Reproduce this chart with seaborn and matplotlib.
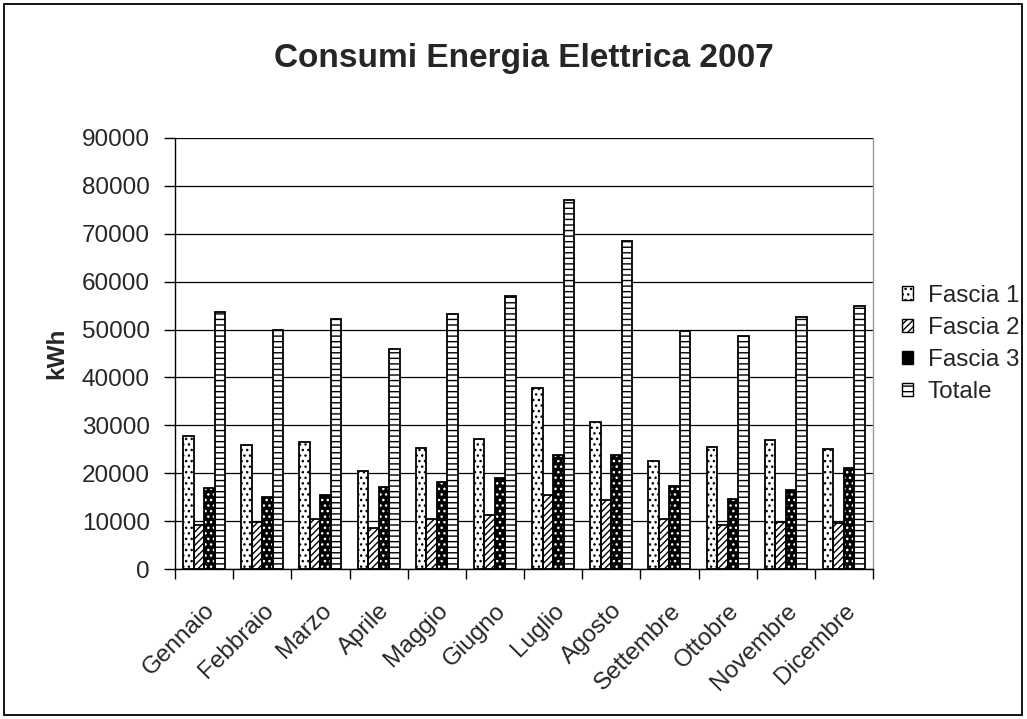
import matplotlib
matplotlib.use("Agg")
import matplotlib.pyplot as plt
from matplotlib.patches import Rectangle, Patch
from matplotlib.ticker import FixedLocator
from matplotlib.transforms import ScaledTranslation
import seaborn as sns
import pandas as pd

mesi = ["Gennaio", "Febbraio", "Marzo", "Aprile", "Maggio", "Giugno",
        "Luglio", "Agosto", "Settembre", "Ottobre", "Novembre", "Dicembre"]
serie = ["Fascia 1", "Fascia 2", "Fascia 3", "Totale"]

fascia1 = [27700, 25900, 26600, 20500, 25200, 27200, 37900, 30600, 22500, 25500, 26900, 25000]
fascia2 = [9200, 9800, 10500, 8500, 10500, 11200, 15500, 14500, 10500, 9200, 9900, 9700]
fascia3 = [16900, 15000, 15500, 17200, 18200, 18900, 23900, 23900, 17300, 14600, 16600, 21000]
totale = [53600, 50000, 52300, 45900, 53300, 57000, 77000, 68400, 49700, 48600, 52700, 55000]

y_ticks = [0, 10000, 20000, 30000, 40000, 50000, 60000, 70000, 80000, 90000]

df = pd.DataFrame({
    "Mese": mesi * 4,
    "Serie": [s for s in serie for _ in mesi],
    "kWh": fascia1 + fascia2 + fascia3 + totale,
})

sns.set_theme(style="white")
plt.rcParams["font.family"] = ["Liberation Sans", "DejaVu Sans"]
plt.rcParams["hatch.linewidth"] = 1.0

FS = 17.5

# (face, hatch colour, hatch pattern) for each series
stili = {
    "Fascia 1": ("white", "black", "..."),
    "Fascia 2": ("white", "black", "/////"),
    "Fascia 3": ("black", "white", "..."),
    "Totale": ("white", "black", "---"),
}

fig = plt.figure(figsize=(10.27, 7.19), dpi=100)
ax = fig.add_axes([175 / 1027, 1 - 569 / 719, (873 - 175) / 1027, (569 - 138) / 719])

sns.barplot(data=df, x="Mese", y="kWh", hue="Serie", order=mesi, hue_order=serie,
            palette=["white"] * 4, saturation=1, width=0.72, gap=0,
            edgecolor="black", linewidth=1.2, errorbar=None, legend=False, ax=ax)

for cont, nome in zip(ax.containers, serie):
    face, hcol, hatch = stili[nome]
    for bar in cont:
        bar.set_facecolor(face)
        bar.set_edgecolor(hcol)
        bar.set_hatch(hatch)
        bar.set_linewidth(0)
        ax.add_patch(Rectangle((bar.get_x(), bar.get_y()), bar.get_width(), bar.get_height(),
                               facecolor="none", edgecolor="black", linewidth=1.3, zorder=3))

ax.set_ylim(0, 90000)
ax.set_xlim(-0.5, len(mesi) - 0.5)
ax.set_yticks(y_ticks)
ax.set_yticklabels([str(v) for v in y_ticks], fontsize=FS)

# ticks on category boundaries, labels on category centres
ax.xaxis.set_major_locator(FixedLocator([i - 0.5 for i in range(len(mesi) + 1)]))
ax.xaxis.set_minor_locator(FixedLocator(list(range(len(mesi)))))
ax.set_xticklabels([], minor=False)
ax.set_xticklabels(mesi, minor=True, fontsize=FS, rotation=45, ha="right", va="top",
                   rotation_mode="anchor")
shift = ScaledTranslation(-6 / 100, 0, fig.dpi_scale_trans)
for lab in ax.get_xticklabels(minor=True):
    lab.set_transform(lab.get_transform() + shift)
ax.tick_params(axis="x", which="major", direction="out", length=7, width=1, color="black",
               bottom=True)
ax.tick_params(axis="x", which="minor", length=0, pad=22)
ax.tick_params(axis="y", direction="out", length=8, width=1, color="black", left=True, pad=10)

ax.grid(axis="y", color="black", linewidth=0.9)
ax.set_axisbelow(True)
for side in ["left", "bottom"]:
    ax.spines[side].set_color("black")
    ax.spines[side].set_linewidth(1.0)
ax.spines["top"].set_visible(False)
ax.spines["right"].set_color("#999999")
ax.spines["right"].set_linewidth(1.0)

ax.set_xlabel("")
ax.set_ylabel("kWh", fontsize=FS, fontweight="bold", labelpad=10)
ax.set_title("Consumi Energia Elettrica 2007", fontsize=24, fontweight="bold", pad=51)

handles = []
for nome in serie:
    face, hcol, hatch = stili[nome]
    handles.append(Patch(facecolor=face, edgecolor="black", hatch=hatch, linewidth=1.0))
fig.legend(handles, serie, loc="center left", bbox_to_anchor=(902 / 1027, 1 - 344 / 719),
           frameon=False, fontsize=FS, handlelength=0.45, handleheight=0.45,
           handletextpad=0.6, labelspacing=0.42, borderpad=0, borderaxespad=0)

fig.patches.append(Rectangle((4 / 1027, 4 / 719), 1 - 9 / 1027, 1 - 8 / 719,
                             transform=fig.transFigure, fill=False,
                             edgecolor="black", linewidth=1.3))

fig.savefig("out.png", dpi=100, facecolor="white")
